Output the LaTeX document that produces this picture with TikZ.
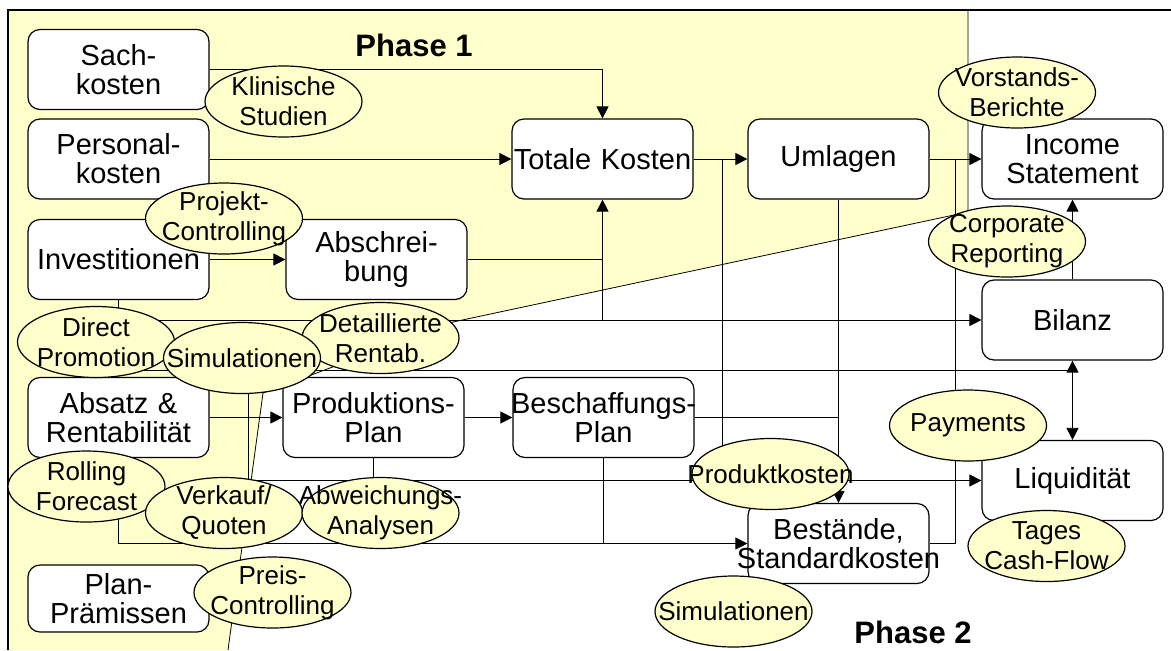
\documentclass[tikz,border=0pt]{standalone}
\usepackage{fontspec}
\setmainfont{Liberation Sans}
\usetikzlibrary{arrows.meta,positioning,shapes.geometric,backgrounds,calc}
\definecolor{cream}{HTML}{FFFFCC}
\newcommand{\boxfont}{\fontsize{14.5}{14.5}\selectfont}
\newcommand{\bubfont}{\fontsize{13}{15}\selectfont}

\begin{document}
\begin{tikzpicture}[x=0.5pt,y=-0.5pt,>={Triangle[length=6pt,width=6pt]},line width=0.6pt,
box/.style={draw,rounded corners=6pt,fill=white,minimum width=90.5pt,minimum height=40pt,inner sep=0pt,text width=90.5pt,align=center,font=\boxfont},
bubble/.style={ellipse,draw,fill=cream,minimum width=78.5pt,minimum height=35.5pt,inner sep=0pt,label={[font=\bubfont,align=center]center:#1}},
phase/.style={font=\fontsize{15.5}{16}\selectfont\bfseries}]
\useasboundingbox (0,0) rectangle (1171,650);

% boxes
\node[box] (sach) at (118.5,69.5) {Sach-\\kosten};
\node[box] (personal) at (118.5,159) {Personal-\\kosten};
\node[box] (invest) at (118.5,259.5) {Investitionen};
\node[box] (abschr) at (376.5,259.5) {Abschrei-\\bung};
\node[box] (totale) at (602.5,159) {Totale Kosten};
\node[box] (umlagen) at (838.5,159) {Umlagen};
\node[box] (income) at (1072.5,159) {Income\\Statement};
\node[box] (bilanz) at (1072.5,320) {Bilanz};
\node[box] (liquid) at (1072.5,480.5) {Liquidität};
\node[box] (absatz) at (118.5,417.5) {Absatz \&\\Rentabilität};
\node[box] (prod) at (373.5,417.5) {Produktions-\\Plan};
\node[box] (beschaff) at (603.5,417.5) {\makebox[0pt]{Beschaffungs-}\\Plan};
\node[box] (bestand) at (838.5,543.5) {Bestände,\\\makebox[0pt]{Standardkosten}};
\node[box,minimum height=33.5pt] (praem) at (118.5,598.5) {Plan-\\Prämissen};

% bubbles
\node[bubble={Klinische\\Studien}] (klinisch) at (283.5,101.5) {};
\node[bubble={Projekt-\\Controlling}] (projekt) at (224,218.5) {};
\node[bubble={Vorstands-\\Berichte}] (vorstand) at (1017,92.5) {};
\node[bubble={Corporate\\Reporting}] (corpo) at (1007,241.5) {};
\node[bubble={Direct\\Promotion}] (direct) at (96,342) {};
\node[bubble={Detaillierte\\Rentab.}] (detail) at (380.5,338) {};
\node[bubble={Simulationen}] (simA) at (242,358) {};
\node[bubble={Rolling\\Forecast}] (rolling) at (86.5,486.5) {};
\node[bubble={Verkauf/\\Quoten}] (verkauf) at (224,513) {};
\node[bubble={Abweichungs-\\Analysen}] (abweich) at (380.5,513) {};
\node[bubble={Preis-\\Controlling}] (preis) at (272.5,592.5) {};
\node[bubble={Produktkosten}] (produkt) at (770.5,474) {};
\node[bubble={Simulationen}] (simB) at (733.5,611.5) {};
\node[bubble={Payments}] (payments) at (968,425.5) {};
\node[bubble={Tages\\Cash-Flow}] (tages) at (1046.5,546) {};

\node[phase] (ph1) at (414,45) {Phase 1};
\node[phase] (ph2) at (913,632) {Phase 2};

\begin{scope}[on background layer]
% phase 1 area
\fill[cream] (8,10) -- (968,10) -- (968,212) -- (453,322) -- (263,393) -- (228,650) -- (8,650) -- cycle;
\draw (968,10) -- (968,212) -- (453,322) -- (263,393) -- (228,650);
\draw[line width=0.75pt] (8,650) -- (8,10) -- (1171,10);

\coordinate (tk) at ($(totale.east)+(29,0)$);
\coordinate (ui) at ($(umlagen.east)!0.5!(income.west)$);
\coordinate (bl) at ($(bilanz.south)!0.125!(liquid.north)$);
\coordinate (ab) at (248,0 |- bl);

\draw[->] (sach.east) -| (totale.north);
\draw[->] (personal) -- (totale);
\draw[->] (invest) -- (abschr);
\draw (abschr.east) -- (abschr.east -| totale.south);
\draw[->] (invest.south) |- (bilanz.west);
\draw[->] (totale.south |- bilanz.west) -- (totale.south);
\draw[->] (totale) -- (umlagen);
\draw (tk) -- (tk |- liquid.west);
\draw[->] (umlagen) -- (income);
\draw[->] (umlagen.south) -- (bestand.north);
\draw (beschaff.east) -- (beschaff.east -| umlagen.south);
\draw[->] (absatz) -- (prod);
\draw[->] (prod) -- (beschaff);
\draw (direct |- bl) -- (bl);
\draw[->] (ab) |- (liquid.west);
\draw (prod.south) -- (prod.south |- liquid.west);
\draw[->] (absatz.south) |- (bestand.west);
\draw (beschaff.south) -- (beschaff.south |- bestand.west);
\draw (bestand.east) -| (ui);
\draw[->] (bilanz.north) -- (income.south);
\draw[<->] (bilanz.south) -- (liquid.north);
\end{scope}
\end{tikzpicture}
\end{document}
